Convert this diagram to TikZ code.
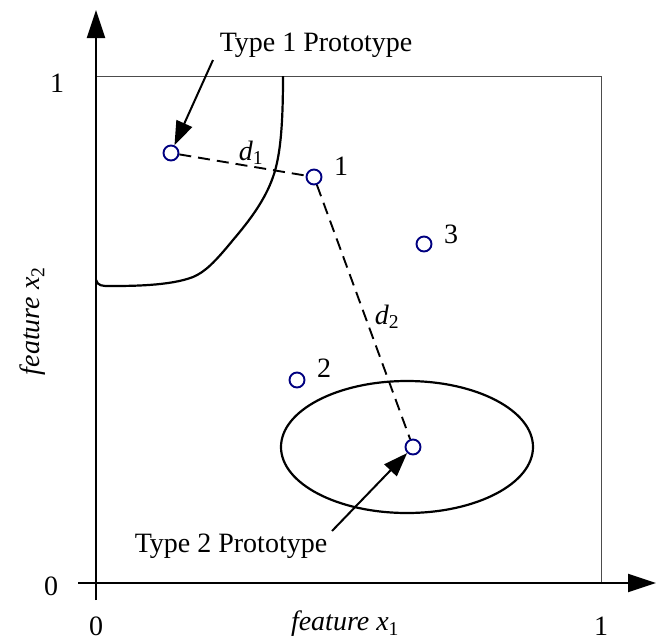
\documentclass[tikz,border=0pt]{standalone}
\usepackage{fontspec}
\setmainfont{Liberation Serif}
\usetikzlibrary{arrows.meta}
\definecolor{ptblue}{RGB}{0,0,128}
\newcommand{\featx}[1]{\textit{feature x}\textsubscript{#1}}
\newcommand{\dsym}[1]{\textit{d}\textsubscript{#1}}
\begin{document}
\begin{tikzpicture}[x=1pt,y=-1pt,
  pt/.style={circle,draw=ptblue,line width=1.9pt,minimum size=15pt,inner sep=0pt},
  lbl/.style={font=\fontsize{28}{32}\selectfont,inner sep=0pt},
  axis/.style={line width=2.2pt,-{Triangle[length=28pt,width=18pt]}},
  callout/.style={line width=2pt,-{Triangle[length=24pt,width=17pt]}},
  dist/.style={dash pattern=on 12pt off 7pt,line width=1.9pt},
  curve/.style={line width=2.2pt}]
\useasboundingbox (0,0) rectangle (657,641);
% frame
\draw[line width=1pt,black!70] (96,76) -- (601,76) -- (601,583);
% axes
\coordinate (ystart) at (96,600);
\coordinate (ytip) at (96,10);
\coordinate (xstart) at (78,583);
\coordinate (xtip) at (656,583);
\draw[axis] (ystart) -- (ytip);
\draw[axis] (xstart) -- (xtip);
% tick labels
\node[lbl] (y1) at (57,83) {1};
\node[lbl] (y0) at (51,586) {0};
\node[lbl] (x0) at (96,626) {0};
\node[lbl] (x1) at (601,626) {1};
\node[lbl] (xlab) at (345,624) {\featx{1}};
\node[lbl,rotate=90] (ylab) at (33,321) {\featx{2}};
% boundary curve
\draw[curve] (96,280) .. controls (98,286) and (102,286) .. (110,286)
  .. controls (130,286) and (170,286) .. (193,277)
  .. controls (205,272) and (215,262) .. (233,240)
  .. controls (250,220) and (265,200) .. (273,177)
  .. controls (281,155) and (283,120) .. (283,76);
% ellipse
\draw[curve] (407,447) ellipse [x radius=126, y radius=66];
% points
\node[pt] (p1) at (171,153) {};
\node[pt] (a) at (314,177) {};
\node[pt] (c) at (424,244) {};
\node[pt] (b) at (297,380) {};
\node[pt] (p2) at (413,447) {};
\node[lbl] at (341,166) {1};
\node[lbl] at (451,234) {3};
\node[lbl] at (324,368) {2};
% distances
\draw[dist] (p1) -- (a);
\draw[dist] (a) -- (p2);
\node[lbl] (d1) at (251,153) {\dsym{1}};
\node[lbl] (d2) at (387,317) {\dsym{2}};
% callouts
\node[lbl] (t1) at (316,45) {Type 1 Prototype};
\node[lbl] (t2) at (231,546) {Type 2 Prototype};
\coordinate (t1s) at (213,60);
\coordinate (t2s) at (332,531);
\draw[callout] (t1s) -- (p1);
\draw[callout] (t2s) -- (p2);
\end{tikzpicture}
\end{document}
